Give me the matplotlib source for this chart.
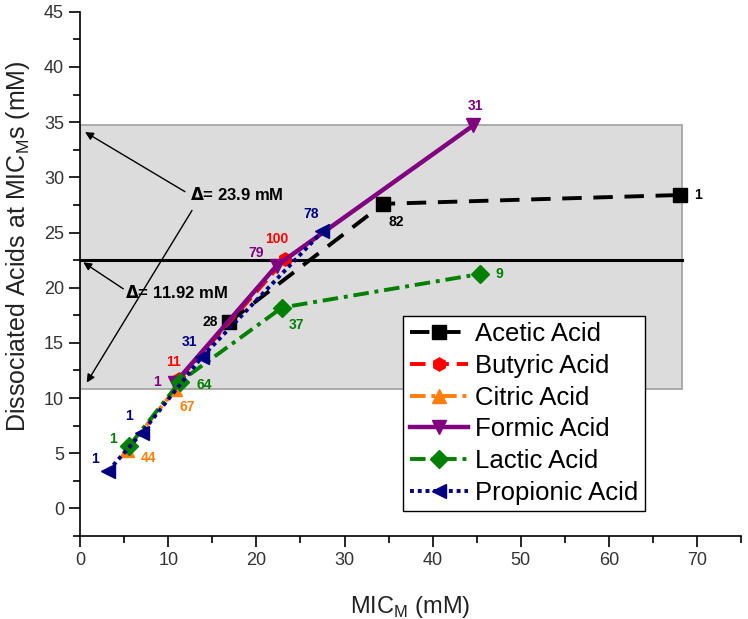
import matplotlib
matplotlib.use("Agg")
import matplotlib.pyplot as plt
from matplotlib.patches import Rectangle
from matplotlib.ticker import MultipleLocator

plt.rcParams['font.family'] = ['Liberation Sans', 'DejaVu Sans']

# ---- data ----
acetic_x = [16.9, 34.4, 68.1]
acetic_y = [16.9, 27.6, 28.4]
acetic_lbl = ["28", "82", "1"]

butyric_x = [11.2, 23.3]
butyric_y = [11.7, 22.6]
butyric_lbl = ["11", "100"]

citric_x = [5.3, 10.8]
citric_y = [5.3, 10.8]
citric_lbl = ["44", "67"]

formic_x = [10.8, 22.3, 44.6]
formic_y = [11.4, 22.0, 34.7]
formic_lbl = ["1", "79", "31"]

lactic_x = [5.6, 11.35, 22.9, 45.4]
lactic_y = [5.7, 11.5, 18.2, 21.25]
lactic_lbl = ["1", "64", "37", "9"]

propionic_x = [3.2, 7.0, 13.8, 27.5]
propionic_y = [3.4, 6.85, 13.7, 25.1]
propionic_lbl = ["1", "1", "31", "78"]

band_low, band_high, band_right = 10.8, 34.7, 68.3
mean_line = 22.5

fig = plt.figure(figsize=(7.48, 6.19), dpi=100)
ax = fig.add_axes([0.107, 0.134, 0.884, 0.847])
ax.set_xlim(0, 75)
ax.set_ylim(-2.5, 45)

ax.add_patch(Rectangle((0, band_low), band_right, band_high - band_low,
                       facecolor='#dcdcdc', edgecolor='#a0a0a0', lw=1.2, zorder=0))
ax.plot([0, band_right], [mean_line, mean_line], color='black', lw=2.2, zorder=1)

series = [
    ("Acetic Acid", acetic_x, acetic_y, acetic_lbl, 'black', (0, (5, 3)), 's', 2.8,
     [(-19, 0), (13, -18), (18, 0)]),
    ("Butyric Acid", butyric_x, butyric_y, butyric_lbl, '#ff0000', (0, (4, 2)), 'h', 2.8,
     [(-5, 17), (-9, 20)]),
    ("Citric Acid", citric_x, citric_y, citric_lbl, '#ff7f0e', (0, (4, 1.5, 1, 1.5)), '^', 2.8,
     [(22, -8), (12, -18)]),
    ("Formic Acid", formic_x, formic_y, formic_lbl, '#800080', '-', 'v', 3.2,
     [(-18, 1), (-21, 13), (2, 19)]),
    ("Lactic Acid", lactic_x, lactic_y, lactic_lbl, '#008000', (0, (4, 1.5, 1, 1.5)), 'D', 2.8,
     [(-16, 7), (24, -3), (15, -17), (19, 0)]),
    ("Propionic Acid", propionic_x, propionic_y, propionic_lbl, '#000080', (0, (1, 1)), '<', 2.8,
     [(-13, 12), (-13, 17), (-12, 15), (-11, 17)]),
]

for name, xs, ys, lbls, col, ls, mk, lw, offs in series:
    ax.plot(xs, ys, color=col, ls=ls, lw=lw, marker=mk, ms=9.5, label=name, zorder=3)
    for x, y, t, (dx, dy) in zip(xs, ys, lbls, offs):
        ax.annotate(t, (x, y), xytext=(dx, dy), textcoords='offset pixels',
                    ha='center', va='center', color=col, fontsize=10,
                    fontweight='bold', zorder=4)

# annotations
arrow_kw = dict(arrowstyle='-|>', color='black', lw=1.0, mutation_scale=12,
                shrinkA=0, shrinkB=0)
ax.annotate('', xy=(0.57, 34.1), xytext=(11.9, 28.7), arrowprops=arrow_kw)
ax.annotate('', xy=(0.76, 11.4), xytext=(12.7, 27.0), arrowprops=arrow_kw)
ax.annotate('', xy=(0.37, 22.3), xytext=(4.9, 19.9), arrowprops=arrow_kw)
ax.text(12.5, 28.4, r'$\mathbf{\Delta}$= 23.9 mM', fontsize=12, fontweight='bold',
        va='center', ha='left', zorder=5)
ax.text(5.1, 19.6, r'$\mathbf{\Delta}$= 11.92 mM', fontsize=12, fontweight='bold',
        va='center', ha='left', zorder=5)

# axes styling
for s in ['top', 'right']:
    ax.spines[s].set_visible(False)
for s in ['left', 'bottom']:
    ax.spines[s].set_linewidth(1.2)
ax.xaxis.set_major_locator(MultipleLocator(10))
ax.xaxis.set_minor_locator(MultipleLocator(5))
ax.yaxis.set_major_locator(MultipleLocator(5))
ax.yaxis.set_minor_locator(MultipleLocator(2.5))
ax.tick_params(which='major', direction='out', length=8, width=1.2,
               labelsize=13, labelcolor='#333333')
ax.tick_params(which='minor', direction='out', length=5, width=1.2)

ax.set_xlabel(r'MIC$_\mathregular{M}$ (mM)', fontsize=17, color='#222222')
ax.set_ylabel(r'Dissociated Acids at MIC$_\mathregular{M}$s (mM)', fontsize=18,
              color='#222222')
ax.xaxis.set_label_coords(0.5, -0.11)
ax.yaxis.set_label_coords(-0.073, 0.553)

leg = ax.legend(loc='upper left', bbox_to_anchor=(0.489, 0.42), fontsize=18.5,
                frameon=True, fancybox=False, edgecolor='black', framealpha=1,
                handlelength=2.25, handletextpad=0.3, labelspacing=0.3,
                borderpad=0.25, borderaxespad=0, numpoints=1)
leg.get_frame().set_linewidth(1.0)
leg.set_zorder(6)

fig.savefig('out.png', dpi=100)
